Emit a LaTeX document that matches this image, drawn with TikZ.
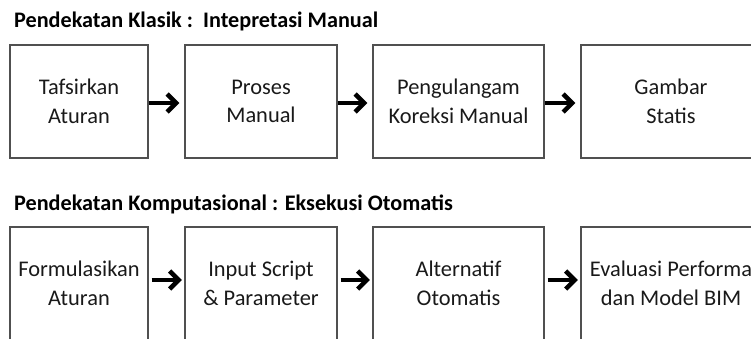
\documentclass[tikz,border=0pt]{standalone}
\usepackage{fontspec}
\setmainfont{Carlito}
\usetikzlibrary{arrows.meta}
\definecolor{boxline}{HTML}{505050}
\tikzset{
  stepbox/.style={draw=boxline, line width=1.3pt, rectangle, minimum height=113pt,
    inner sep=0pt, align=center, font=\fontsize{22.4}{28.5}\selectfont, text=black!90},
  titletext/.style={anchor=base west, inner sep=0pt, font=\fontsize{22.2}{26}\bfseries\selectfont},
  flow/.style={line width=4.5pt, -{Straight Barb[length=9pt,width=18pt,line width=4.5pt]}},
}
\begin{document}
\begin{tikzpicture}[x=1pt,y=-1pt]
\useasboundingbox (0,0) rectangle (751,338);
\node[titletext] (t1) at (14,27.5) {Pendekatan Klasik :\ \ Intepretasi Manual};
\node[titletext] (t2) at (14,210.5) {Pendekatan Komputasional : Eksekusi Otomatis};
% top row
\node[stepbox, minimum width=138pt] (a1) at (79,101.5) {Tafsirkan\\Aturan};
\node[stepbox, minimum width=152pt] (a2) at (261,101.5) {Proses\\Manual};
\node[stepbox, minimum width=171pt] (a3) at (458.5,101.5) {Pengulangam\\Koreksi Manual};
\node[stepbox, minimum width=180pt] (a4) at (671,101.5) {Gambar\\Statis};
% bottom row
\node[stepbox, minimum width=138pt] (b1) at (79,283.5) {Formulasikan\\Aturan};
\node[stepbox, minimum width=152pt] (b2) at (261,283.5) {Input Script\\\& Parameter};
\node[stepbox, minimum width=171pt] (b3) at (458.5,283.5) {Alternatif\\Otomatis};
\node[stepbox, minimum width=180pt] (b4) at (671,283.5) {Evaluasi Performa\\dan Model BIM};
% arrows
\draw[flow, shorten >=5pt] ([yshift=-1.5pt]a1.east) -- ([yshift=-1.5pt]a2.west);
\draw[flow, shorten >=5pt] ([yshift=-1.5pt]a2.east) -- ([yshift=-1.5pt]a3.west);
\draw[flow, shorten >=5pt] ([yshift=-1.5pt]a3.east) -- ([yshift=-1.5pt]a4.west);
\draw[flow, shorten <=3pt, shorten >=2.5pt] ([yshift=3.5pt]b1.east) -- ([yshift=3.5pt]b2.west);
\draw[flow, shorten <=3pt, shorten >=2.5pt] ([yshift=3.5pt]b2.east) -- ([yshift=3.5pt]b3.west);
\draw[flow, shorten <=3pt, shorten >=2.5pt] ([yshift=3.5pt]b3.east) -- ([yshift=3.5pt]b4.west);
\end{tikzpicture}
\end{document}
